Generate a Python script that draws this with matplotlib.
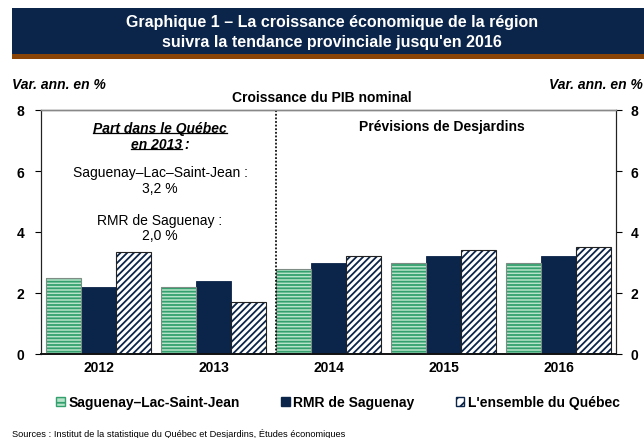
import matplotlib
matplotlib.use("Agg")
import matplotlib.pyplot as plt
import numpy as np
from matplotlib.patches import Rectangle, Patch
from matplotlib.lines import Line2D

years = ["2012", "2013", "2014", "2015", "2016"]
slsj = [2.5, 2.2, 2.8, 3.0, 3.0]
rmr = [2.2, 2.4, 3.0, 3.2, 3.2]
quebec = [3.35, 1.7, 3.2, 3.4, 3.5]
series_names = ["Saguenay\u2013Lac-Saint-Jean", "RMR de Saguenay", "L'ensemble du Qu\u00e9bec"]
yticks = [0, 2, 4, 6, 8]

NAVY = "#0b2449"
GREEN_LINE = "#33a06d"
GREEN_BG = "#b8e3cb"
FS = 10

plt.rcParams["font.family"] = ["Liberation Sans", "DejaVu Sans"]
plt.rcParams["hatch.linewidth"] = 1.3

fig = plt.figure(figsize=(6.44, 4.39), dpi=100)

# Title banner
fig.patches.append(Rectangle((12/644, 1-55/439), 1-12/644, 46/439, transform=fig.transFigure,
                             facecolor=NAVY, edgecolor="none", zorder=0))
fig.patches.append(Rectangle((12/644, 1-60/439), 1-12/644, 5/439, transform=fig.transFigure,
                             facecolor="#8a4406", edgecolor="none", zorder=0))
fig.text(0.515, 1-22/439, "Graphique 1 \u2013 La croissance \u00e9conomique de la r\u00e9gion",
         ha="center", va="center", color="white", fontsize=11.5, fontweight="bold")
fig.text(0.515, 1-42/439, "suivra la tendance provinciale jusqu'en 2016",
         ha="center", va="center", color="white", fontsize=11.5, fontweight="bold")

ax = fig.add_axes([41/644, 1-355/439, (616-41)/644, (355-111)/439])
x = np.arange(len(years))
w = 0.307

ax.bar(x - w, slsj, w, color=GREEN_BG, edgecolor=GREEN_LINE, hatch="-----", linewidth=0, zorder=2)
ax.bar(x - w, slsj, w, fill=False, edgecolor="#7f8c86", linewidth=0.8, zorder=3)
ax.bar(x, rmr, w, color=NAVY, edgecolor=NAVY, linewidth=0.6, zorder=2)
ax.bar(x + w, quebec, w, color="white", edgecolor=NAVY, hatch="/////", linewidth=0, zorder=2)
ax.bar(x + w, quebec, w, fill=False, edgecolor="#222222", linewidth=0.8, zorder=3)

ax.set_xlim(-0.5, 4.5)
ax.set_ylim(0, 8)
ax.set_yticks(yticks)
ax.set_yticklabels([str(t) for t in yticks], fontweight="bold", fontsize=FS)
ax.tick_params(axis="y", direction="out", length=4, width=0.8, pad=8)
ax.set_xticks(x)
ax.set_xticklabels(years, fontweight="bold", fontsize=FS)
ax.tick_params(axis="x", length=0, pad=4)

ax2 = ax.twinx()
ax2.set_ylim(0, 8)
ax2.set_yticks(yticks)
ax2.set_yticklabels([str(t) for t in yticks], fontweight="bold", fontsize=FS)
ax2.tick_params(axis="y", direction="out", length=4, width=0.8, pad=6.5)
for a in (ax, ax2):
    a.spines["left"].set_color("#222222")
    a.spines["right"].set_color("#222222")
    a.spines["bottom"].set_color("#111111")
    a.spines["bottom"].set_linewidth(1.2)
    a.spines["top"].set_color("#888888")
    a.spines["top"].set_linewidth(1.0)

ax.axvline(1.54, color="#111111", linestyle=(0, (1, 1)), linewidth=1.3, zorder=4)

# Left annotation block
cx = 0.535
t1 = ax.text(cx, 7.42, "Part dans le Qu\u00e9bec", ha="center", va="center",
             fontsize=FS, fontweight="bold", fontstyle="italic")
t2 = ax.text(cx - 0.03, 6.9, "en 2013", ha="center", va="center",
             fontsize=FS, fontweight="bold", fontstyle="italic")
ax.text(cx, 5.70, "Saguenay\u2013Lac\u2013Saint-Jean :\n3,2 %", ha="center", va="center",
        fontsize=FS, linespacing=1.15)
ax.text(cx, 4.15, "RMR de Saguenay :\n2,0 %", ha="center", va="center",
        fontsize=FS, linespacing=1.15)
ax.text(2.99, 7.47, "Pr\u00e9visions de Desjardins", ha="center", va="center",
        fontsize=FS, fontweight="bold")

fig.canvas.draw()
r = fig.canvas.get_renderer()
inv = fig.transFigure.inverted()
for t in (t1, t2):
    bb = t.get_window_extent(r)
    (x0, y0), (x1, y1) = inv.transform([(bb.x0, bb.y0), (bb.x1, bb.y1)])
    yl = y0 + 0.1 * (y1 - y0)
    fig.add_artist(Line2D([x0, x1], [yl, yl], transform=fig.transFigure, color="black", linewidth=0.9))
bb2 = t2.get_window_extent(r)
xr = inv.transform((bb2.x1, bb2.y0))[0]
yc = inv.transform((0, (bb2.y0 + bb2.y1) / 2))[1]
fig.text(xr + 2/644, yc, ":", ha="left", va="center", fontsize=FS, fontweight="bold", fontstyle="italic")

fig.text(0.5, 1-98/439, "Croissance du PIB nominal", ha="center", va="center",
         fontsize=FS, fontweight="bold")
fig.text(12/644, 1-85/439, "Var. ann. en %", ha="left", va="center",
         fontsize=FS, fontweight="bold", fontstyle="italic")
fig.text(643/644, 1-85/439, "Var. ann. en %", ha="right", va="center",
         fontsize=FS, fontweight="bold", fontstyle="italic")

handles = [
    Patch(facecolor=GREEN_BG, edgecolor=GREEN_LINE, hatch="---"),
    Patch(facecolor=NAVY, edgecolor=NAVY),
    Patch(facecolor="white", edgecolor=NAVY, hatch="///"),
]
leg = fig.legend(handles, series_names, loc="center", bbox_to_anchor=(0.525, 1-403/439), ncol=3,
                 frameon=False, handlelength=0.6, handleheight=0.6, handletextpad=0.25,
                 columnspacing=3.0, prop={"weight": "bold", "size": FS})

fig.text(12/644, 1-434/439, "Sources : Institut de la statistique du Qu\u00e9bec et Desjardins, \u00c9tudes \u00e9conomiques",
         ha="left", va="center", fontsize=6.7)

fig.savefig("out.png", dpi=100)
